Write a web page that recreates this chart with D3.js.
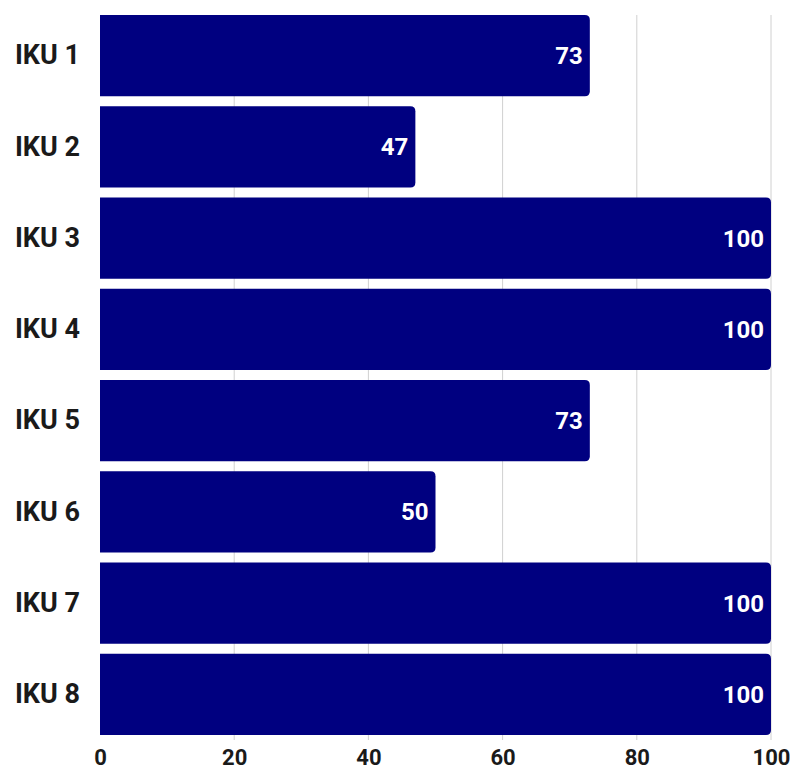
<!DOCTYPE html>
<html>
<head>
<meta charset="utf-8">
<script src="https://cdn.jsdelivr.net/npm/d3@7"></script>
<style>
  html, body { margin: 0; padding: 0; background: #fff; }
  svg { display: block; }
</style>
</head>
<body>
<svg id="chart" width="798" height="773"></svg>
<script>
const categories = ["IKU 1", "IKU 2", "IKU 3", "IKU 4", "IKU 5", "IKU 6", "IKU 7", "IKU 8"];
const values = [73, 47, 100, 100, 73, 50, 100, 100];
const xTicks = [0, 20, 40, 60, 80, 100];

(function () {
const svg = d3.select("#chart");
const mLeft = 100, mRight = 771, mTop = 15, mBottom = 735;
const font = "Roboto, 'Open Sans', sans-serif";
const barColor = "#000080";

const x = d3.scaleLinear().domain([0, 100]).range([mLeft, mRight]);
const y = d3.scaleBand().domain(categories).range([mTop, mBottom]).paddingInner(0.11).paddingOuter(0);

// gridlines
svg.append("g").selectAll("line").data(xTicks.filter(d => d > 0)).join("line")
  .attr("x1", d => x(d)).attr("x2", d => x(d))
  .attr("y1", mTop).attr("y2", mBottom + 5)
  .attr("stroke", "#d0d0d0").attr("stroke-width", 1);

// bars with rounded right corners
const r = 5;
function barPath(d, i) {
  const x0 = x(0), x1 = x(d), y0 = y(categories[i]), h = y.bandwidth();
  return `M${x0},${y0} H${x1 - r} Q${x1},${y0} ${x1},${y0 + r} V${y0 + h - r} Q${x1},${y0 + h} ${x1 - r},${y0 + h} H${x0} Z`;
}
svg.append("g").selectAll("path").data(values).join("path")
  .attr("d", barPath)
  .attr("fill", barColor);

// value labels
svg.append("g").selectAll("text").data(values).join("text")
  .attr("x", d => x(d) - 7)
  .attr("y", (d, i) => y(categories[i]) + y.bandwidth() / 2)
  .attr("dy", "0.35em")
  .attr("text-anchor", "end")
  .attr("fill", "#ffffff")
  .attr("font-family", font)
  .attr("font-weight", 700)
  .attr("font-size", 24)
  .text(d => d);

// y axis labels
const yAxis = d3.axisLeft(y).tickSize(0).tickPadding(20);
const gy = svg.append("g").attr("transform", `translate(${mLeft},0)`).call(yAxis);
gy.select(".domain").remove();
gy.selectAll("text")
  .attr("font-family", font).attr("font-weight", 700).attr("font-size", 27).attr("fill", "#1a1a1a");

// x axis
const xAxis = d3.axisBottom(x).tickValues(xTicks).tickSize(0).tickPadding(14);
const gx = svg.append("g").attr("transform", `translate(0,${mBottom})`).call(xAxis);
gx.select(".domain").remove();
gx.selectAll("text")
  .attr("font-family", font).attr("font-weight", 700).attr("font-size", 22).attr("fill", "#1a1a1a");
})();
</script>
</body>
</html>
